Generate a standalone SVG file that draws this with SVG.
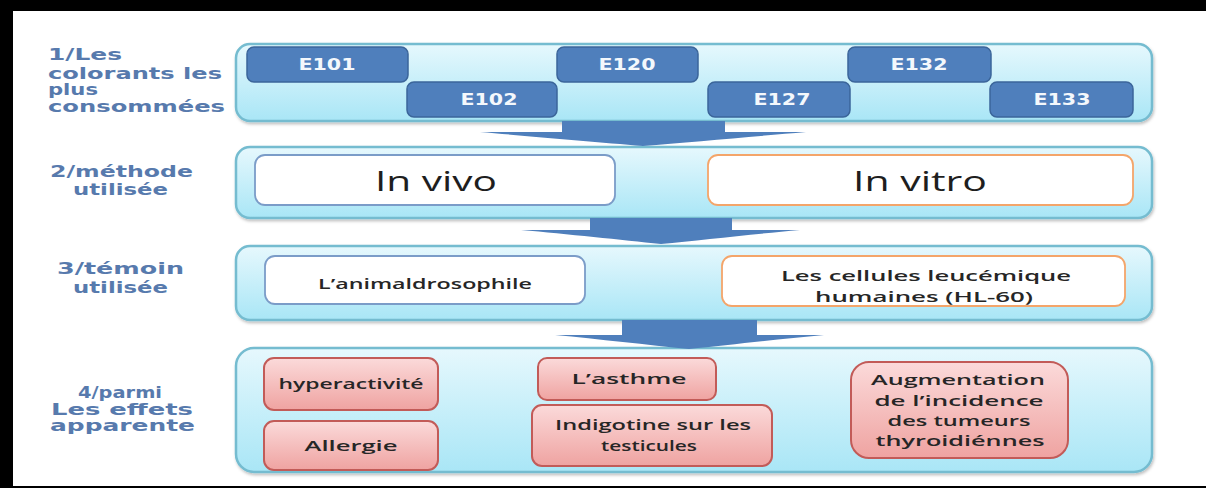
<svg xmlns="http://www.w3.org/2000/svg" width="1206" height="488" viewBox="0 0 1206 488">
<defs>
<linearGradient id="gPanel" x1="0" y1="0" x2="0" y2="1">
<stop offset="0" stop-color="#E6F8FD"/>
<stop offset="1" stop-color="#A9E6F6"/>
</linearGradient>
<linearGradient id="gRed" x1="0" y1="0" x2="0" y2="1">
<stop offset="0" stop-color="#FBDADA"/>
<stop offset="1" stop-color="#EFA3A1"/>
</linearGradient>
<filter id="sh" x="-5%" y="-10%" width="110%" height="130%">
<feDropShadow dx="1" dy="2" stdDeviation="1.5" flood-color="#000" flood-opacity="0.25"/>
</filter>
</defs>
<style>
.panel{fill:url(#gPanel);stroke:#74BCD0;stroke-width:2.5}
.ebox{fill:#4F7FBC;stroke:#3B659A;stroke-width:1.5}
.etxt{font-family:"DejaVu Sans",sans-serif;font-weight:bold;font-size:15px;fill:#F4F8FC;text-anchor:middle}
.wbox{fill:#FFFFFF;stroke-width:1.8}
.blue{stroke:#7B9CC8}
.orange{stroke:#F4A56A}
.rbox{fill:url(#gRed);stroke:#C25B58;stroke-width:2}
.lbl{font-family:"DejaVu Sans",sans-serif;font-weight:bold;font-size:15px;fill:#577AAD}
.big{font-family:"Open Sans",sans-serif;font-size:27px;font-weight:500;fill:#1E1E1E;text-anchor:middle}
.mid{font-family:"Open Sans",sans-serif;font-size:15px;font-weight:600;fill:#262626;text-anchor:middle}
.arrow{fill:#4F7FBC}
</style>
<rect x="0" y="0" width="1206" height="488" fill="#FFFFFF"/>
<rect x="0" y="0" width="1206" height="11" fill="#000000"/>
<rect x="0" y="0" width="13" height="488" fill="#000000"/>
<rect x="0" y="486" width="1206" height="2" fill="#000000"/>

<g id="labels">
<text class="lbl" x="48" y="60" textLength="74" lengthAdjust="spacingAndGlyphs">1/Les</text>
<text class="lbl" x="48" y="79" textLength="174" lengthAdjust="spacingAndGlyphs">colorants les</text>
<text class="lbl" x="48" y="95" textLength="50" lengthAdjust="spacingAndGlyphs">plus</text>
<text class="lbl" x="48" y="112" textLength="177" lengthAdjust="spacingAndGlyphs">consommées</text>
<text class="lbl" x="50" y="177" textLength="143" lengthAdjust="spacingAndGlyphs">2/méthode</text>
<text class="lbl" x="73" y="195" textLength="95" lengthAdjust="spacingAndGlyphs">utilisée</text>
<text class="lbl" x="57" y="274" textLength="127" lengthAdjust="spacingAndGlyphs">3/témoin</text>
<text class="lbl" x="73" y="293" textLength="95" lengthAdjust="spacingAndGlyphs">utilisée</text>
<text class="lbl" x="78" y="398" textLength="84" lengthAdjust="spacingAndGlyphs">4/parmi</text>
<text class="lbl" x="51" y="415" textLength="142" lengthAdjust="spacingAndGlyphs">Les effets</text>
<text class="lbl" x="50" y="431" textLength="145" lengthAdjust="spacingAndGlyphs">apparente</text>
</g>

<g id="panels" filter="url(#sh)">
<rect class="panel" x="236" y="44" width="916" height="77" rx="14"/>
<rect class="panel" x="236" y="147" width="916" height="71" rx="14"/>
<rect class="panel" x="236" y="246" width="916" height="74" rx="14"/>
<rect class="panel" x="236" y="348" width="916" height="124" rx="18"/>
</g>

<g id="connectors">
<path class="arrow" d="M562,121 H725 V132 H806 C760,136 690,142 643,146 C596,142 526,136 480,132 H562 Z"/>
<path class="arrow" d="M590,218 H732 V230 H800 C755,234 700,240 661,244 C622,240 567,234 521,230 H590 Z"/>
<path class="arrow" d="M622,320 H757 V335 H824 C780,339 730,345 689,349 C648,345 598,339 555,335 H622 Z"/>
</g>

<g id="e101"><rect class="ebox" x="247" y="47" width="161" height="35" rx="7"/><text class="etxt" x="327" y="70" textLength="57" lengthAdjust="spacingAndGlyphs">E101</text></g>
<g id="e102"><rect class="ebox" x="407" y="82" width="150" height="35" rx="7"/><text class="etxt" x="489" y="105" textLength="57" lengthAdjust="spacingAndGlyphs">E102</text></g>
<g id="e120"><rect class="ebox" x="557" y="47" width="141" height="35" rx="7"/><text class="etxt" x="627" y="70" textLength="57" lengthAdjust="spacingAndGlyphs">E120</text></g>
<g id="e127"><rect class="ebox" x="708" y="82" width="142" height="35" rx="7"/><text class="etxt" x="782" y="105" textLength="57" lengthAdjust="spacingAndGlyphs">E127</text></g>
<g id="e132"><rect class="ebox" x="848" y="47" width="143" height="35" rx="7"/><text class="etxt" x="919" y="70" textLength="57" lengthAdjust="spacingAndGlyphs">E132</text></g>
<g id="e133"><rect class="ebox" x="990" y="82" width="143" height="35" rx="7"/><text class="etxt" x="1062" y="105" textLength="57" lengthAdjust="spacingAndGlyphs">E133</text></g>

<g id="invivo"><rect class="wbox blue" x="255" y="155" width="360" height="50" rx="10"/><text class="big" x="436" y="191" textLength="122" lengthAdjust="spacingAndGlyphs">In vivo</text></g>
<g id="invitro"><rect class="wbox orange" x="708" y="155" width="425" height="50" rx="10"/><text class="big" x="920" y="191" textLength="134" lengthAdjust="spacingAndGlyphs">In vitro</text></g>

<g id="drosophile"><rect class="wbox blue" x="265" y="256" width="320" height="48" rx="10"/><text class="mid" x="425" y="289" textLength="214" lengthAdjust="spacingAndGlyphs">L’animaldrosophile</text></g>
<g id="cellules"><rect class="wbox orange" x="722" y="256" width="403" height="50" rx="10"/>
<text class="mid" x="926" y="281" textLength="290" lengthAdjust="spacingAndGlyphs">Les cellules leucémique</text>
<text class="mid" x="924" y="302" textLength="218" lengthAdjust="spacingAndGlyphs">humaines (HL-60)</text></g>

<g id="hyper"><rect class="rbox" x="264" y="358" width="174" height="52" rx="10"/><text class="mid" x="351" y="389" textLength="145" lengthAdjust="spacingAndGlyphs">hyperactivité</text></g>
<g id="allergie"><rect class="rbox" x="264" y="421" width="174" height="49" rx="10"/><text class="mid" x="351" y="451" textLength="93" lengthAdjust="spacingAndGlyphs">Allergie</text></g>
<g id="asthme"><rect class="rbox" x="538" y="358" width="178" height="42" rx="9"/><text class="mid" x="629" y="384" textLength="115" lengthAdjust="spacingAndGlyphs">L’asthme</text></g>
<g id="indigotine"><rect class="rbox" x="532" y="405" width="240" height="61" rx="10"/>
<text class="mid" x="653" y="430" textLength="196" lengthAdjust="spacingAndGlyphs">Indigotine sur les</text>
<text class="mid" x="649" y="451" textLength="96" lengthAdjust="spacingAndGlyphs">testicules</text></g>
<g id="augmentation"><rect class="rbox" x="851" y="362" width="217" height="96" rx="18"/>
<text class="mid" x="958" y="385" textLength="174" lengthAdjust="spacingAndGlyphs">Augmentation</text>
<text class="mid" x="959" y="406" textLength="169" lengthAdjust="spacingAndGlyphs">de l’incidence</text>
<text class="mid" x="959" y="426" textLength="143" lengthAdjust="spacingAndGlyphs">des tumeurs</text>
<text class="mid" x="960" y="446" textLength="169" lengthAdjust="spacingAndGlyphs">thyroidiénnes</text></g>
</svg>
